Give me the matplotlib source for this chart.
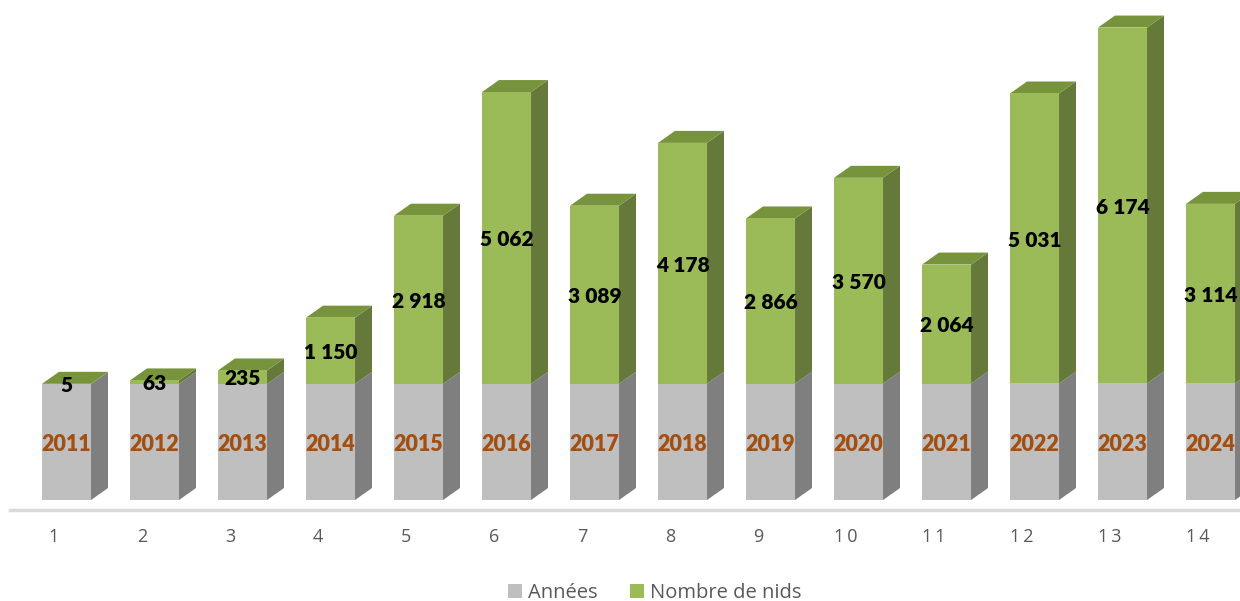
import matplotlib.pyplot as plt
from matplotlib.patches import Polygon, Patch

# data
categories = list(range(1, 15))
annees = [2011, 2012, 2013, 2014, 2015, 2016, 2017, 2018, 2019, 2020, 2021, 2022, 2023, 2024]
nids = [5, 63, 235, 1150, 2918, 5062, 3089, 4178, 2866, 3570, 2064, 5031, 6174, 3114]
series_names = ["Années", "Nombre de nids"]

# styles
grey_front, grey_side, grey_top = "#BFBFBF", "#7F7F7F", "#A6A6A6"
green_front, green_side, green_top = "#9BBB59", "#657A3A", "#77933C"
year_color = "#A34F12"
text_grey = "#595959"

width = 0.557     # front face width (category units)
dx, dy = 0.193, 208  # depth offset of the 3D effect

plt.rcParams['font.family'] = ['Lato', 'DejaVu Sans']

fig = plt.figure(figsize=(12.4, 6.01), dpi=100)
ax = fig.add_axes([0, 0, 1, 1])
ax.set_xlim(0.2443, 14.335)
ax.set_ylim(-1752, 8675)
ax.axis('off')


def fmt(v):
    return f"{v:,}".replace(",", "\u202f")


def draw_side(x, y0, y1, color, z):
    x1 = x + width / 2
    ax.add_patch(Polygon([(x1, y0), (x1 + dx, y0 + dy), (x1 + dx, y1 + dy), (x1, y1)],
                         closed=True, facecolor=color, edgecolor='none', zorder=z))


def draw_top(x, y, color, z):
    x0, x1 = x - width / 2, x + width / 2
    ax.add_patch(Polygon([(x0, y), (x0 + dx, y + dy), (x1 + dx, y + dy), (x1, y)],
                         closed=True, facecolor=color, edgecolor='none', zorder=z))


ax.bar(categories, annees, width=width, color=grey_front, zorder=3)
ax.bar(categories, nids, bottom=annees, width=width, color=green_front, zorder=3)

for x, a, n in zip(categories, annees, nids):
    draw_side(x, 0, a, grey_side, 2)
    draw_side(x, a, a + n, green_side, 2)
    draw_top(x, a + n, green_top, 2)
    ax.text(x, a / 2 - 50, str(a), ha='center', va='center', fontsize=15.5,
            fontweight='heavy', color=year_color, zorder=5)
    ax.text(x, a + n / 2 - 30, fmt(n), ha='center', va='center', fontsize=15,
            fontweight='heavy', color='black', zorder=5)

# category axis
ax.plot([0.357, 14.335], [-175, -175], color="#D9D9D9", lw=2.5, zorder=1)
for x in categories:
    ax.text(x - 0.142, -640, "\u2009".join(str(x)), ha='center', va='center',
            fontsize=13, color=text_grey, family=['Open Sans', 'DejaVu Sans'])

handles = [Patch(facecolor=grey_front, edgecolor='none'),
           Patch(facecolor=green_front, edgecolor='none')]
leg = fig.legend(handles, series_names, loc='center', bbox_to_anchor=(0.528, 0.013),
                 ncol=2, frameon=False, handlelength=0.7, handleheight=0.7,
                 handletextpad=0.3, columnspacing=1.6,
                 prop={'family': ['Open Sans', 'DejaVu Sans'], 'size': 14.5})
for t in leg.get_texts():
    t.set_color(text_grey)

fig.savefig('out.png', dpi=100)
